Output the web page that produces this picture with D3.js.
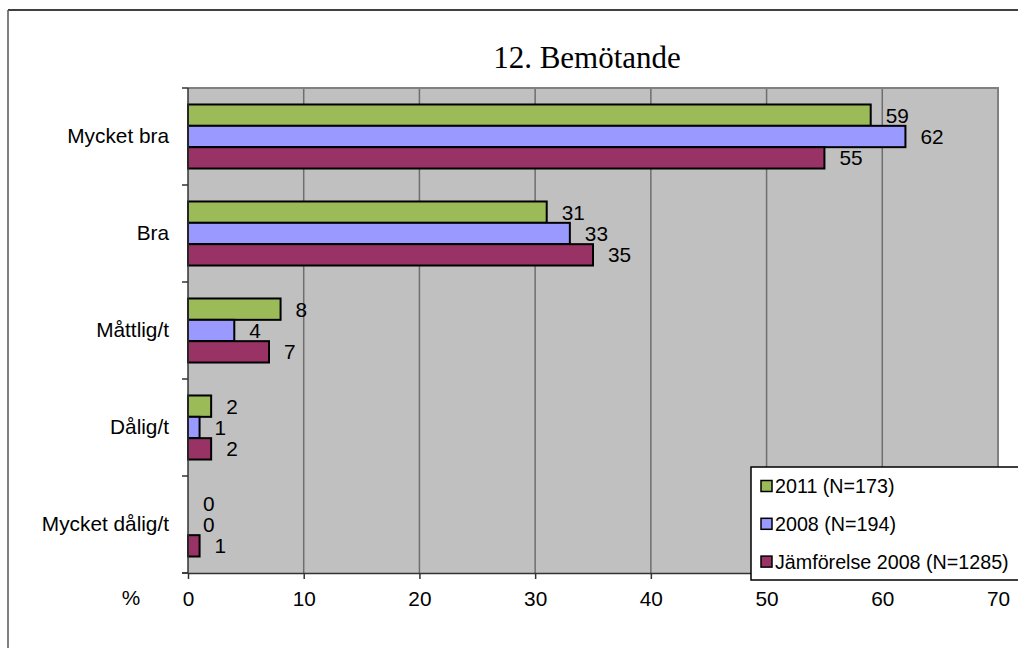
<!DOCTYPE html>
<html>
<head>
<meta charset="utf-8">
<script src="https://cdn.jsdelivr.net/npm/d3@7"></script>
<style>
  html, body { margin: 0; padding: 0; background: #fff; }
  svg { display: block; }
  text { font-family: "Liberation Sans", Arial, sans-serif; fill: #000; }
</style>
</head>
<body>
<svg id="chart" width="1018" height="648"></svg>
<script>
// Response categories (top to bottom)
const categories = ["Mycket bra", "Bra", "Måttlig/t", "Dålig/t", "Mycket dålig/t"];

// Series values in percent
const series2011 = [59, 31, 8, 2, 0];
const series2008 = [62, 33, 4, 1, 0];
const seriesJmf = [55, 35, 7, 2, 1];

const seriesNames = ["2011 (N=173)", "2008 (N=194)", "Jämförelse 2008 (N=1285)"];
const seriesColors = ["#9BBB59", "#9999FF", "#993366"];
const xTicks = [0, 10, 20, 30, 40, 50, 60, 70];

const title = "12. Bemötande";

const svg = d3.select("#chart");
const labelFont = "20.8px";

// Outer chart frame (top and left edges visible)
svg.append("line").attr("x1", 8).attr("y1", 10).attr("x2", 1018).attr("y2", 10)
  .attr("stroke", "#000").attr("stroke-width", 1.5);
svg.append("line").attr("x1", 8).attr("y1", 10).attr("x2", 8).attr("y2", 648)
  .attr("stroke", "#555").attr("stroke-width", 1.5);

const plot = { left: 188, right: 998, top: 88, bottom: 573 };

const x = d3.scaleLinear().domain([0, 70]).range([plot.left, plot.right]);
const y = d3.scaleBand().domain(categories).range([plot.top, plot.bottom])
  .paddingInner(0.34).paddingOuter(0.17);
const ySub = d3.scaleBand().domain(d3.range(3)).range([0, y.bandwidth()]);

// Plot background
svg.append("rect")
  .attr("x", plot.left).attr("y", plot.top)
  .attr("width", plot.right - plot.left).attr("height", plot.bottom - plot.top)
  .attr("fill", "#C0C0C0");

// Vertical gridlines
svg.append("g").selectAll("line")
  .data(xTicks.filter(d => d > 0 && d < 70))
  .join("line")
  .attr("x1", d => x(d)).attr("x2", d => x(d))
  .attr("y1", plot.top).attr("y2", plot.bottom)
  .attr("stroke", "#6e6e6e").attr("stroke-width", 1.5);

// Plot border: top and right in grey
svg.append("path")
  .attr("d", `M${plot.left},${plot.top}H${plot.right}V${plot.bottom}`)
  .attr("fill", "none").attr("stroke", "#808080").attr("stroke-width", 2);

// Bars
const seriesData = [series2011, series2008, seriesJmf];
const barRows = [];
categories.forEach((c, i) => {
  seriesData.forEach((vals, s) => barRows.push({ cat: c, s, v: vals[i] }));
});

const bars = svg.append("g");
bars.selectAll("rect")
  .data(barRows.filter(d => d.v > 0))
  .join("rect")
  .attr("x", x(0))
  .attr("y", d => y(d.cat) + ySub(d.s))
  .attr("width", d => x(d.v) - x(0))
  .attr("height", ySub.bandwidth())
  .attr("fill", d => seriesColors[d.s])
  .attr("stroke", "#000").attr("stroke-width", 2);

// Value labels
svg.append("g").selectAll("text")
  .data(barRows)
  .join("text")
  .attr("x", d => x(d.v) + 15)
  .attr("y", d => y(d.cat) + ySub(d.s) + ySub.bandwidth() / 2)
  .attr("dy", "0.36em")
  .style("font-size", labelFont)
  .text(d => d.v);

// Category axis line and boundary ticks
svg.append("line")
  .attr("x1", plot.left).attr("x2", plot.left)
  .attr("y1", plot.top).attr("y2", plot.bottom)
  .attr("stroke", "#333").attr("stroke-width", 1.5);
svg.append("g").selectAll("line")
  .data(d3.range(categories.length + 1))
  .join("line")
  .attr("x1", plot.left - 6).attr("x2", plot.left)
  .attr("y1", i => plot.top + i * y.step())
  .attr("y2", i => plot.top + i * y.step())
  .attr("stroke", "#333").attr("stroke-width", 1.5);

// Category labels
const yAxis = svg.append("g")
  .attr("transform", `translate(${plot.left - 19},0)`)
  .call(d3.axisLeft(y).tickSize(0).tickPadding(0));
yAxis.select(".domain").remove();
yAxis.selectAll("text")
  .style("font-size", labelFont)
  .style("font-family", "'Liberation Sans', Arial, sans-serif")
  .attr("fill", "#000");

// Value axis
const xAxis = svg.append("g")
  .attr("transform", `translate(0,${plot.bottom})`)
  .call(d3.axisBottom(x).tickValues(xTicks).tickSize(6).tickSizeOuter(0).tickPadding(12));
xAxis.select(".domain").attr("stroke", "#333").attr("stroke-width", 1.5);
xAxis.selectAll(".tick line").attr("stroke", "#333").attr("stroke-width", 1.5);
xAxis.selectAll("text")
  .style("font-size", labelFont)
  .style("font-family", "'Liberation Sans', Arial, sans-serif")
  .attr("fill", "#000");
// short extension of the axis line to the left
svg.append("line")
  .attr("x1", plot.left - 6).attr("x2", plot.left)
  .attr("y1", plot.bottom).attr("y2", plot.bottom)
  .attr("stroke", "#333").attr("stroke-width", 1.5);

// Unit label
svg.append("text")
  .attr("x", 131).attr("y", 605)
  .attr("text-anchor", "middle")
  .style("font-size", labelFont)
  .text("%");

// Title
svg.append("text")
  .attr("x", 587).attr("y", 68)
  .attr("text-anchor", "middle")
  .style("font-family", "'Liberation Serif', 'Times New Roman', serif")
  .style("font-size", "31px")
  .text(title);

// Legend
const legend = svg.append("g");
legend.append("rect")
  .attr("x", 751).attr("y", 467)
  .attr("width", 300).attr("height", 113)
  .attr("fill", "#fff").attr("stroke", "#000").attr("stroke-width", 1.5);
const legendRows = legend.selectAll("g.item")
  .data(seriesNames)
  .join("g")
  .attr("class", "item")
  .attr("transform", (d, i) => `translate(761,${486 + i * 37.8})`);
legendRows.append("rect")
  .attr("x", 0).attr("y", -5.5)
  .attr("width", 11).attr("height", 11)
  .attr("fill", (d, i) => seriesColors[i])
  .attr("stroke", "#000").attr("stroke-width", 1.5);
legendRows.append("text")
  .attr("x", 14).attr("y", 0).attr("dy", "0.36em")
  .style("font-size", "19.7px")
  .text(d => d);
</script>
</body>
</html>
